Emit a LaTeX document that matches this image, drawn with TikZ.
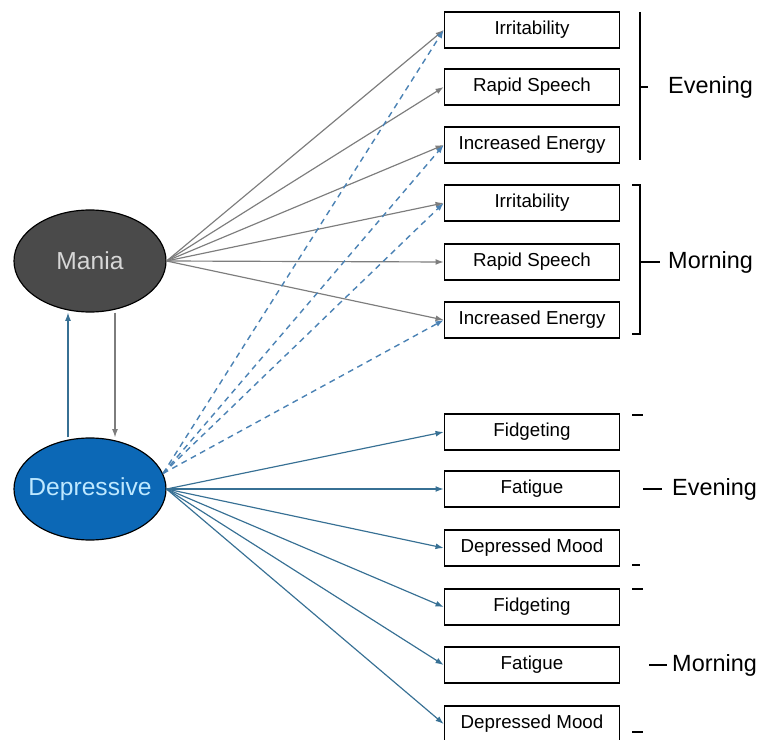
\documentclass[tikz,border=0pt]{standalone}
\usepackage{fontspec}
\setmainfont{Liberation Sans}
\usetikzlibrary{arrows.meta,shapes.geometric,positioning}
\definecolor{maniagray}{RGB}{74,74,74}
\definecolor{deprblue}{RGB}{12,104,182}
\definecolor{edgegray}{RGB}{125,125,125}
\definecolor{edgeblue}{RGB}{55,112,148}
\definecolor{dashblue}{RGB}{75,130,180}
\tikzset{
  sym/.style={draw,line width=1.3pt,minimum width=5.25cm,minimum height=1.08cm,inner sep=0pt,font=\fontsize{16}{19}\selectfont},
  state/.style={ellipse,draw,line width=1pt,minimum width=4.56cm,minimum height=3.06cm,inner xsep=-0.3cm,inner ysep=0pt,font=\fontsize{21}{25}\selectfont},
  arr/.style={line width=1pt,-{Latex[length=7pt,width=5pt]}},
  dasharr/.style={arr,dashblue,line width=1.2pt,dash pattern=on 5pt off 4pt},
  lbl/.style={font=\fontsize{20}{24}\selectfont,anchor=west,inner sep=0pt},
}
\begin{document}
\begin{tikzpicture}[x=0.03cm,y=-0.03cm]
    \useasboundingbox (0,0) rectangle (778,740);

    \node[state,fill=maniagray,text={rgb,255:red,215;green,215;blue,215}] (mania) at (90,261) {Mania};
    \node[state,fill=deprblue,text={rgb,255:red,190;green,232;blue,255}] (depr) at (90,489) {Depressive};

    \node[sym] (irrE) at (532,30) {Irritability};
    \node[sym] (speE) at (532,87) {Rapid Speech};
    \node[sym] (eneE) at (532,145) {Increased Energy};
    \node[sym] (irrM) at (532,203) {Irritability};
    \node[sym] (speM) at (532,262) {Rapid Speech};
    \node[sym] (eneM) at (532,320) {Increased Energy};

    \node[sym] (fidE) at (532,432) {Fidgeting};
    \node[sym] (fatE) at (532,489) {Fatigue};
    \node[sym] (moodE) at (532,548) {Depressed Mood};
    \node[sym] (fidM) at (532,607) {Fidgeting};
    \node[sym] (fatM) at (532,665) {Fatigue};
    \node[sym] (moodM) at (532,724) {Depressed Mood};

    % mania to its symptoms
    \draw[arr,edgegray] (mania.east) -- (irrE.west);
    \draw[arr,edgegray] (mania.east) -- (speE.west);
    \draw[arr,edgegray] (mania.east) -- (eneE.west);
    \draw[arr,edgegray] (mania.east) -- (irrM.west);
    \draw[arr,edgegray] (mania.east) -- (speM.west);
    \draw[arr,edgegray] (mania.east) -- (eneM.west);

    % depressive to mania symptoms
    \draw[dasharr] (depr.12) -- (irrE.west);
    \draw[dasharr] (depr.12) -- (eneE.west);
    \draw[dasharr] (depr.12) -- (irrM.west);
    \draw[dasharr] (depr.12) -- (eneM.west);

    % depressive to its symptoms
    \draw[arr,edgeblue] (depr.east) -- (fidE.west);
    \draw[arr,edgeblue] (depr.east) -- (fatE.west);
    \draw[arr,edgeblue] (depr.east) -- (moodE.west);
    \draw[arr,edgeblue] (depr.east) -- (fidM.west);
    \draw[arr,edgeblue] (depr.east) -- (fatM.west);
    \draw[arr,edgeblue] (depr.east) -- (moodM.west);

    \draw[arr,edgeblue] ([xshift=-0.66cm]depr.north) -- ([xshift=-0.66cm]mania.south);
    \draw[arr,edgegray] ([xshift=0.75cm]mania.south) -- ([xshift=0.75cm]depr.north);

    % brackets
    \draw[line width=1.3pt] (640,12) -- (640,160) (640,87) -- (648,87);
    \draw[line width=1.3pt] (632,185) -- (640,185) -- (640,334) -- (632,334) (640,262) -- (660,262);
    \draw[line width=1.3pt] (632,415) -- (643,415) (643,489) -- (662,489) (632,565) -- (640,565);
    \draw[line width=1.3pt] (632,589) -- (643,589) (649,665) -- (667,665) (632,732) -- (643,732);

    \node[lbl] (eveTop) at (668,87) {Evening};
    \node[lbl] (morTop) at (668,262) {Morning};
    \node[lbl] (eveBot) at (672,489) {Evening};
    \node[lbl] (morBot) at (672,665) {Morning};
\end{tikzpicture}
\end{document}
